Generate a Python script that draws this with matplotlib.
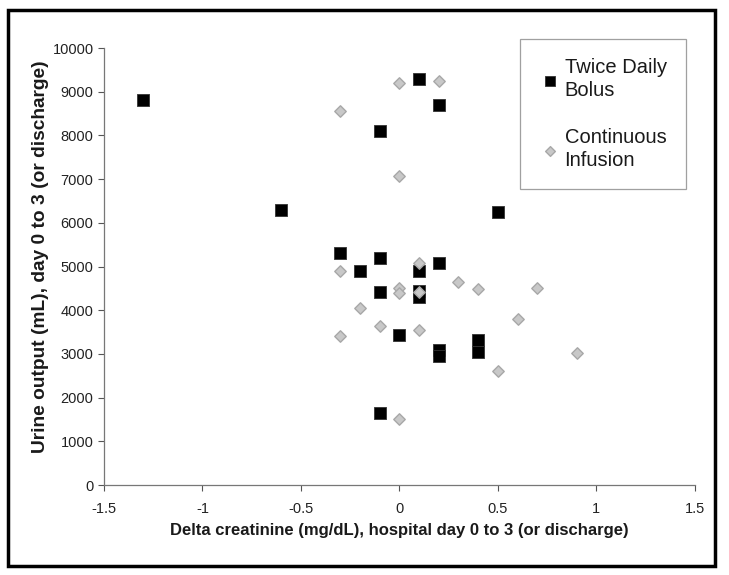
import matplotlib
matplotlib.use("Agg")
import matplotlib.pyplot as plt
from matplotlib.patches import Rectangle

plt.rcParams['font.family'] = ['Liberation Sans', 'DejaVu Sans']

# Twice Daily Bolus
bolus_x = [-1.3, 0.1, 0.2, -0.1, -0.6, 0.5, -0.3, -0.1, -0.2, 0.2, 0.1, -0.1, 0.1, 0.1, 0.0, 0.2, 0.2, 0.4, 0.4, -0.1]
bolus_y = [8800, 9300, 8700, 8100, 6300, 6250, 5300, 5200, 4900, 5080, 4900, 4420, 4450, 4300, 3430, 3080, 2950, 3320, 3050, 1650]

# Continuous Infusion
cont_x = [0.0, 0.2, -0.3, 0.0, 0.1, -0.3, 0.3, 0.0, 0.0, 0.1, 0.4, 0.7, -0.2, 0.6, -0.1, 0.1, -0.3, 0.9, 0.5, 0.0]
cont_y = [9200, 9250, 8550, 7070, 5080, 4900, 4650, 4500, 4400, 4420, 4490, 4500, 4050, 3810, 3630, 3550, 3420, 3030, 2610, 1510]

xticks = [-1.5, -1, -0.5, 0, 0.5, 1, 1.5]
xticklabels = ['-1.5', '-1', '-0.5', '0', '0.5', '1', '1.5']
yticks = list(range(0, 10001, 1000))

fig = plt.figure(figsize=(7.29, 5.75), dpi=100)
ax = fig.add_axes([0.1427, 0.1565, 0.8103, 0.76])

ax.scatter(bolus_x, bolus_y, marker='s', s=66, color='black', edgecolors='#333333',
           linewidths=0.6, label='Twice Daily\nBolus', zorder=3)
ax.scatter(cont_x, cont_y, marker='D', s=34, color='#c8c8c8', edgecolors='#a8a8a8',
           linewidths=1.0, label='Continuous\nInfusion', zorder=4)

ax.set_xlim(-1.5, 1.5)
ax.set_ylim(0, 10000)
ax.set_xticks(xticks)
ax.set_xticklabels(xticklabels)
ax.set_yticks(yticks)
ax.tick_params(axis='both', direction='out', length=4, width=0.8, colors='#555555',
               labelcolor='#222222', labelsize=10.5)
ax.tick_params(axis='x', pad=8)
for side in ['top', 'right']:
    ax.spines[side].set_visible(False)
for side in ['left', 'bottom']:
    ax.spines[side].set_color('#777777')
    ax.spines[side].set_linewidth(0.9)

ax.set_xlabel('Delta creatinine (mg/dL), hospital day 0 to 3 (or discharge)',
              fontsize=12, fontweight='bold', color='#1a1a1a', labelpad=5)
ax.set_ylabel('Urine output (mL), day 0 to 3 (or discharge)',
              fontsize=13.8, fontweight='bold', color='#1a1a1a')
ax.yaxis.set_label_coords(-0.093, 0.522)

leg = ax.legend(loc='upper right', bbox_to_anchor=(0.985, 1.02), fontsize=14.5,
                frameon=True, fancybox=False, edgecolor='#888888',
                borderpad=0.95, labelspacing=1.4, handletextpad=0.25,
                handlelength=1.0, markerscale=0.85, borderaxespad=0)
leg.get_frame().set_linewidth(0.9)
for t in leg.get_texts():
    t.set_color('#1a1a1a')
    t.set_linespacing(1.25)

fig.patches.append(Rectangle((8 / 729, 1 - 566 / 575), (715 - 8) / 729, (566 - 10) / 575,
                             transform=fig.transFigure, fill=False,
                             edgecolor='black', linewidth=2.5))

fig.savefig('out.png', dpi=100)
